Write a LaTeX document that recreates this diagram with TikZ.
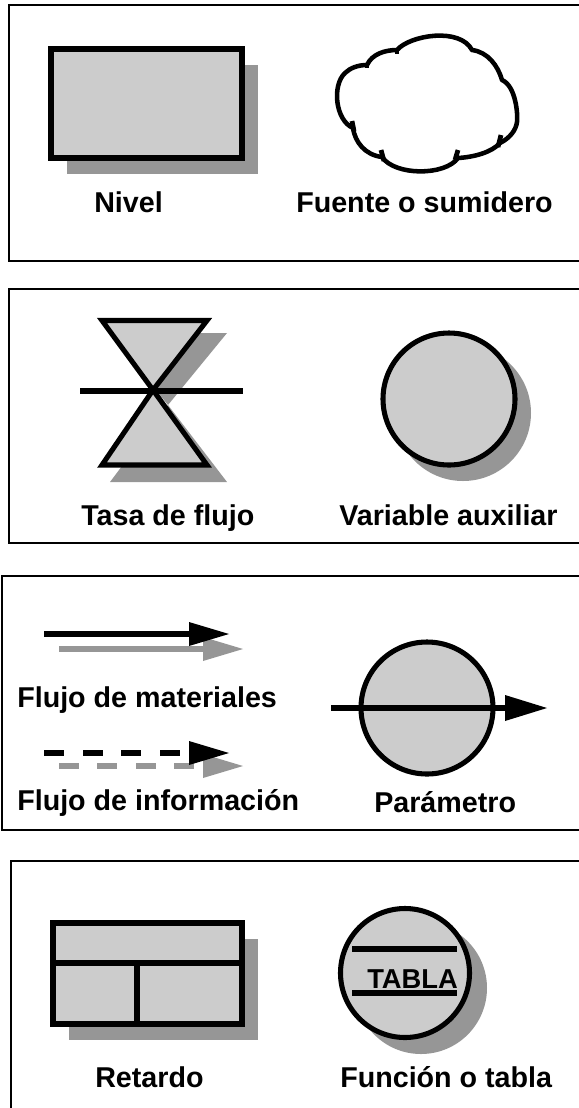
\documentclass[tikz,border=0pt]{standalone}
\usepackage{fontspec}
\setmainfont{Liberation Sans}
\definecolor{bodygray}{HTML}{CCCCCC}
\definecolor{shadowgray}{HTML}{969696}
\tikzset{
  panel/.style={draw=black,line width=1.6pt},
  dropshade/.style={fill=shadowgray,draw=none},
  bodyshape/.style={fill=bodygray,draw=black,line width=3.8pt,miter limit=10},
  barline/.style={draw=black,line width=4pt},
  txt/.style={anchor=base west,inner sep=0pt,font=\fontsize{21.5}{24}\selectfont\bfseries},
  blackhead/.style={fill=black,draw=none},
  grayhead/.style={fill=shadowgray,draw=none},
  grayline/.style={draw=shadowgray,line width=3.8pt},
  cloudline/.style={draw=black,line width=3.4pt,line join=round},
  cloudtick/.style={draw=black,line width=3.6pt}
}
\begin{document}
\begin{tikzpicture}[x=0.75pt,y=-0.75pt]
\useasboundingbox (0,0) rectangle (579,1108);
% frames
\draw[panel] (585,5) -- (9,5) -- (9,261) -- (585,261);
\draw[panel] (585,289) -- (9,289) -- (9,543) -- (585,543);
\draw[panel] (585,576) -- (2,576) -- (2,830) -- (585,830);
\draw[panel] (585,861) -- (11,861) -- (11,1115);
% nivel
\fill[dropshade] (67,65) rectangle (258,174);
\draw[bodyshape] (51,49) rectangle (242,158);
\node[txt] (nivel) at (94,212) {Nivel};
% cloud
\draw[cloudline] (397,50) .. controls (410,35) and (460,27) .. (472,50)
  .. controls (488,52) and (498,66) .. (502,80)
  .. controls (516,86) and (518,115) .. (517,122) .. controls (516,130) and (510,138) .. (500,143)
  .. controls (492,152) and (475,157) .. (458,158)
  .. controls (445,176) and (395,176) .. (382,157)
  .. controls (365,155) and (355,142) .. (353,128)
  .. controls (335,120) and (332,85) .. (345,73) .. controls (350,68) and (358,65) .. (367,65)
  .. controls (372,54) and (385,50) .. (397,50) -- cycle;
\draw[cloudtick] (352,121) -- (354,131);
\draw[cloudtick] (381,150) -- (384,161);
\draw[cloudtick] (458,150) -- (455,160);
\draw[cloudtick] (501,135) -- (498,147);
\draw[cloudtick] (397,50) -- (397,54);
\draw[cloudtick] (367,65) -- (367,68);
\node[txt] (fuente) at (296,212) {Fuente o sumidero};
% tasa de flujo
\fill[dropshade] (110,333) -- (227,333) -- (168,405) -- (227,482) -- (110,482) -- (168,405) -- cycle;
\draw[bodyshape] (102,320.5) -- (207,320.5) -- (153,390) -- cycle;
\draw[bodyshape] (102,465) -- (207,465) -- (153,390) -- cycle;
\draw[barline] (80,391) -- (243,391);
\node[txt] (tasa) at (81,525) {Tasa de flujo};
% variable auxiliar
\fill[dropshade] (463,413) circle (68);
\draw[bodyshape] (449,399) circle (66);
\node[txt] (variable) at (339,525) {Variable auxiliar};
% flows
\draw[barline] (44,634) -- (190,634);
\draw[grayline] (59,649) -- (204,649);
\fill[grayhead] (203,637) -- (243,649) -- (203,661) -- cycle;
\fill[blackhead] (189,622) -- (229,634) -- (189,646) -- cycle;
\node[txt] (mat) at (17,707) {Flujo de materiales};
\foreach \a in {44,83,121,160} \draw[barline] (\a,753) -- ++(20,0);
\foreach \a in {59,97,136,174} \draw[grayline] (\a,766) -- ++(20,0);
\fill[grayhead] (203,754) -- (243,766) -- (203,778) -- cycle;
\fill[blackhead] (189,741) -- (229,753) -- (189,765) -- cycle;
\node[txt] (info) at (17,810) {Flujo de información};
% parametro
\draw[bodyshape] (427,708) circle (66);
\draw[barline] (331,708) -- (506,708);
\fill[blackhead] (505,695) -- (547,708) -- (505,721) -- cycle;
\node[txt] (param) at (374,812) {Parámetro};
% retardo
\fill[dropshade] (69,939) rectangle (258,1040);
\draw[bodyshape] (53,923) rectangle (242,1024);
\draw[barline] (51,963) -- (242,963);
\draw[barline] (137,963) -- (137,1024);
\node[txt] (retardo) at (95,1087) {Retardo};
% tabla
\fill[dropshade] (421,988) circle (66);
\draw[bodyshape] (405,973) circle (64.5);
\draw[barline] (352,949) -- (457,949);
\draw[barline] (352,993) -- (457,993);
\node[txt,font=\fontsize{20.5}{24}\selectfont\bfseries] (tabla) at (367,988) {TABLA};
\node[txt] (funcion) at (340,1087) {Función o tabla};
\end{tikzpicture}
\end{document}
